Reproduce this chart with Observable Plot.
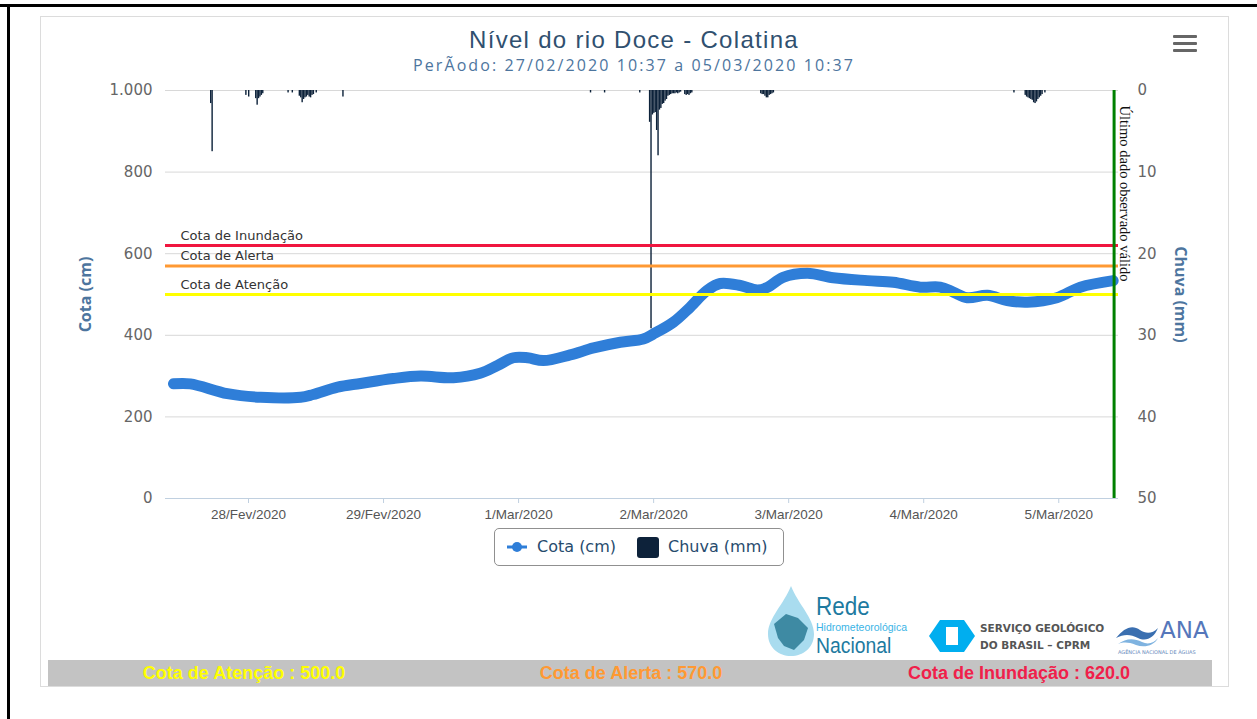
<!DOCTYPE html>
<html><head><meta charset="utf-8">
<script src="https://cdn.jsdelivr.net/npm/d3@7"></script>
<script src="https://cdn.jsdelivr.net/npm/@observablehq/plot@0.6"></script>
<style>
body{margin:0;background:#fff;width:1257px;height:719px;overflow:hidden;position:relative;font-family:"Open Sans",sans-serif;}
#frameTop{position:absolute;left:0;top:4px;width:1257px;height:3px;background:#000;}
#frameLeft{position:absolute;left:7px;top:4px;width:3px;height:715px;background:#000;}
#panel{position:absolute;left:40px;top:16px;width:1189px;height:671px;border:1px solid #dcdcdc;box-sizing:border-box;background:#fff;}
#title{position:absolute;left:40px;width:1188px;top:27px;text-align:center;font-family:"Liberation Sans",Arial,sans-serif;font-size:24px;letter-spacing:1.3px;color:#30506f;line-height:26px;}
#subtitle{position:absolute;left:40px;width:1188px;top:56px;text-align:center;font-size:16px;letter-spacing:2.1px;color:#4d759e;line-height:18px;}
#menu{position:absolute;left:1173px;top:35px;width:24px;}
#menu div{height:3px;background:#666;border-radius:1px;margin-bottom:4px;}
#chart{position:absolute;left:40px;top:80px;}
#legend{position:absolute;left:494px;top:528px;width:290px;height:38px;border:1px solid #909090;border-radius:5px;box-sizing:border-box;font-family:"DejaVu Sans",sans-serif;font-size:16px;color:#274b6d;}
#legend span{position:absolute;top:8px;line-height:20px;}
#footer{position:absolute;left:48px;top:660px;width:1164px;height:26px;background:#c3c3c3;font-family:"Liberation Sans",Arial,sans-serif;font-weight:bold;font-size:18px;}
#footer span{position:absolute;top:2px;transform:translateX(-50%);white-space:nowrap;line-height:22px;}
.logo{position:absolute;white-space:nowrap;}
</style>
</head><body>
<div id="frameTop"></div><div id="frameLeft"></div>
<div id="panel"></div>
<div id="title">Nível do rio Doce - Colatina</div>
<div id="subtitle">PerÃodo: 27/02/2020 10:37 a 05/03/2020 10:37</div>
<div id="menu"><div></div><div></div><div></div></div>
<div id="chart"></div>
<div id="legend">
  <svg style="position:absolute;left:11px;top:12px" width="22" height="12"><line x1="1" y1="6" x2="21" y2="6" stroke="#2f7ed8" stroke-width="3"/><circle cx="11" cy="6" r="5" fill="#2f7ed8"/></svg>
  <span style="left:42px">Cota (cm)</span>
  <div style="position:absolute;left:142px;top:8px;width:22px;height:21px;background:#0d223a;border-radius:3px"></div>
  <span style="left:173px">Chuva (mm)</span>
</div>
<!-- logos -->
<svg class="logo" style="left:764px;top:584px" width="54" height="74">
  <path d="M27 2 C20 20 4 34 4 50 C4 64 15 72 27 72 C39 72 50 64 50 50 C50 34 34 20 27 2 Z" fill="#a9dcef"/>
  <path d="M10 40 L22 30 L34 34 L44 44 L40 56 L30 66 L20 62 L14 54 Z" fill="#3e8aa3"/>
</svg>
<div class="logo" style="left:816px;top:594px;font-family:'Liberation Sans Narrow','Liberation Sans',sans-serif;font-size:25px;color:#1d7aa0;line-height:24px;transform:scaleX(0.9);transform-origin:left">Rede</div>
<div class="logo" style="left:816px;top:621px;font-family:'Liberation Sans Narrow','Liberation Sans',sans-serif;font-size:10.5px;color:#3ab4e6;line-height:12px;transform:scaleX(1.0);transform-origin:left">Hidrometeorológica</div>
<div class="logo" style="left:816px;top:635px;font-family:'Liberation Sans Narrow','Liberation Sans',sans-serif;font-size:22px;color:#1d7aa0;line-height:22px;transform:scaleX(0.88);transform-origin:left">Nacional</div>
<svg class="logo" style="left:928px;top:619px" width="48" height="34">
  <path d="M12 1 L36 1 L47 17 L36 33 L12 33 L1 17 Z" fill="#00aeef"/>
  <path d="M18 8 L30 8 L30 26 L18 26 Z" fill="#fff"/>
</svg>
<div class="logo" style="left:980px;top:621px;font-family:'DejaVu Sans',sans-serif;font-weight:bold;font-size:10.5px;color:#555;line-height:14px">SERVIÇO GEOLÓGICO</div>
<div class="logo" style="left:980px;top:638px;font-family:'DejaVu Sans',sans-serif;font-weight:bold;font-size:10.5px;color:#555;line-height:14px">DO BRASIL – CPRM</div>
<svg class="logo" style="left:1114px;top:618px" width="46" height="30">
  <path d="M2 20 C10 10 18 6 26 12 C32 16 38 16 44 10 C40 20 32 24 24 20 C16 16 10 16 2 20 Z" fill="#3a6fb0"/>
  <path d="M4 26 C12 20 20 20 28 24 C34 27 40 25 44 20 C40 28 30 30 22 27 C14 24 10 24 4 26 Z" fill="#7fb3e0"/>
</svg>
<div class="logo" style="left:1160px;top:617px;font-family:'DejaVu Sans',sans-serif;font-size:23px;color:#5577bb;line-height:26px">ANA</div>
<div class="logo" style="left:1118px;top:649px;font-family:'DejaVu Sans',sans-serif;font-size:5px;color:#6688bb;line-height:6px">AGÊNCIA NACIONAL DE ÁGUAS</div>
<div id="footer">
  <span style="left:196px;color:#ffff00">Cota de Atenção : 500.0</span>
  <span style="left:583px;color:#ff9933">Cota de Alerta : 570.0</span>
  <span style="left:971px;color:#f0204a">Cota de Inundação : 620.0</span>
</div>
<script>
// ---- data ----
const cotaTimes = [
  "2020-02-27T10:40","2020-02-27T13:40","2020-02-27T20:15","2020-02-28T02:10","2020-02-28T09:15",
  "2020-02-28T11:30","2020-02-28T15:50","2020-02-28T19:55","2020-02-29T01:45","2020-02-29T06:35",
  "2020-02-29T12:25","2020-02-29T17:10","2020-02-29T20:15","2020-02-29T23:05","2020-03-01T01:35",
  "2020-03-01T04:25","2020-03-01T09:10","2020-03-01T13:20","2020-03-01T18:05","2020-03-01T22:10",
  "2020-03-01T23:55","2020-03-02T03:30","2020-03-02T06:30","2020-03-02T09:30","2020-03-02T11:50",
  "2020-03-02T15:25","2020-03-02T18:25","2020-03-02T20:10","2020-03-02T23:00","2020-03-03T03:20",
  "2020-03-03T07:55","2020-03-03T14:00","2020-03-03T18:35","2020-03-03T23:25","2020-03-04T02:55",
  "2020-03-04T05:15","2020-03-04T07:45","2020-03-04T11:20","2020-03-04T14:50","2020-03-04T18:25",
  "2020-03-04T23:40","2020-03-05T03:50","2020-03-05T09:40"
];
const cotaValues = [
  281,281,257,248,248,
  255,273,282,294,300,
  296,307,326,345,345,
  338,352,369,383,391,
  403,432,469,510,527,
  522,511,517,542,552,
  541,534,530,518,518,
  506,492,498,485,481,
  492,518,534
];
const rainTimes = [
  "2020-02-27T17:15","2020-02-27T17:30","2020-02-27T23:30","2020-02-28T00:00",
  "2020-02-28T01:15","2020-02-28T01:30","2020-02-28T01:45","2020-02-28T02:00","2020-02-28T02:15","2020-02-28T02:30",
  "2020-02-28T07:00","2020-02-28T07:45",
  "2020-02-28T09:00","2020-02-28T09:15","2020-02-28T09:30","2020-02-28T09:45","2020-02-28T10:00","2020-02-28T10:15",
  "2020-02-28T10:30","2020-02-28T10:45","2020-02-28T11:00","2020-02-28T11:15","2020-02-28T11:30","2020-02-28T12:00",
  "2020-02-28T16:45","2020-03-01T12:45","2020-03-01T15:15","2020-03-01T21:30",
  "2020-03-01T23:15","2020-03-01T23:30","2020-03-01T23:45","2020-03-02T00:00","2020-03-02T00:15","2020-03-02T00:30",
  "2020-03-02T00:45","2020-03-02T01:00","2020-03-02T01:15","2020-03-02T01:30","2020-03-02T01:45","2020-03-02T02:00",
  "2020-03-02T02:15","2020-03-02T02:30","2020-03-02T02:45","2020-03-02T03:00","2020-03-02T03:15","2020-03-02T03:30",
  "2020-03-02T03:45","2020-03-02T04:00","2020-03-02T04:15","2020-03-02T04:30","2020-03-02T04:45",
  "2020-03-02T05:30","2020-03-02T05:45","2020-03-02T06:00","2020-03-02T06:15","2020-03-02T06:30","2020-03-02T06:45",
  "2020-03-02T19:00","2020-03-02T19:15","2020-03-02T19:30","2020-03-02T19:45","2020-03-02T20:00","2020-03-02T20:15",
  "2020-03-02T20:30","2020-03-02T20:45","2020-03-02T21:00","2020-03-02T21:15",
  "2020-03-04T16:00",
  "2020-03-04T18:00","2020-03-04T18:15","2020-03-04T18:30","2020-03-04T18:45","2020-03-04T19:00","2020-03-04T19:15",
  "2020-03-04T19:30","2020-03-04T19:45","2020-03-04T20:00","2020-03-04T20:15","2020-03-04T20:30","2020-03-04T20:45",
  "2020-03-04T21:00","2020-03-04T21:30"
];
const rainValues = [
  1.6,7.5,0.6,0.8,
  1.0,1.8,1.0,0.8,0.6,0.4,
  0.3,0.3,
  0.7,0.9,1.5,1.1,0.9,0.8,
  0.6,0.8,0.9,0.6,0.5,0.3,
  0.8,0.3,0.3,0.3,
  3.9,29.2,3.0,2.8,2.7,4.9,
  8.0,2.4,2.2,1.7,1.6,1.3,
  1.1,0.7,0.6,0.5,0.4,0.4,
  0.4,0.3,0.4,0.3,0.2,
  0.5,0.6,0.5,0.6,0.4,0.3,
  0.4,0.5,0.5,0.7,0.9,0.9,
  0.6,0.5,0.4,0.3,
  0.3,
  0.6,0.8,0.9,1.0,1.1,1.2,
  1.5,1.6,1.4,1.1,0.9,0.7,
  0.5,0.3
];
const thresholdNames = ["Cota de Inundação","Cota de Alerta","Cota de Atenção"];
const thresholdValues = [620, 570, 500];
const leftTicks = [0,200,400,600,800,1000];
const rainTicks = [0,10,20,30,40,50];
const dayTicks = ["2020-02-28T00:00","2020-02-29T00:00","2020-03-01T00:00","2020-03-02T00:00","2020-03-03T00:00","2020-03-04T00:00","2020-03-05T00:00"];
const dayLabels = ["28/Fev/2020","29/Fev/2020","1/Mar/2020","2/Mar/2020","3/Mar/2020","4/Mar/2020","5/Mar/2020"];
const xStart = "2020-02-27T09:15", xEnd = "2020-03-05T10:37";
const lastObserved = "2020-03-05T09:50";
const lastLabel = "Último dado observado válido";

// ---- build ----
const parse = d3.utcParse("%Y-%m-%dT%H:%M");
const cota = cotaTimes.map((t,i)=>({t:parse(t), v:cotaValues[i]}));
const rain = rainTimes.map((t,i)=>({t:parse(t), mm:rainValues[i]}));
const thresholds = thresholdNames.map((n,i)=>({name:n, value:thresholdValues[i]}));
const Y_MAX = 1000, RAIN_MAX = 50;
const toY = mm => Y_MAX - mm*(Y_MAX/RAIN_MAX);
const step = 15*60*1000;
const thresholdColor = {"Cota de Inundação":"#f0163f","Cota de Alerta":"#ff9933","Cota de Atenção":"#ffff00"};
const dayMap = new Map(dayTicks.map((d,i)=>[+parse(d), dayLabels[i]]));
const fmtLeft = d => d >= 1000 ? d3.format(",")(d).replace(/,/g,".") : String(d);

const chart = Plot.plot({
  width:1188, height:450,
  marginLeft:125, marginRight:110, marginTop:10, marginBottom:32,
  style:{background:"transparent", overflow:"visible"},
  x:{type:"utc", domain:[parse(xStart), parse(xEnd)]},
  y:{domain:[0, Y_MAX]},
  marks:[
    Plot.gridY(leftTicks, {stroke:"#d8d8d8", strokeOpacity:1}),
    Plot.axisY(leftTicks, {anchor:"left", tickSize:0, tickPadding:13, tickFormat:fmtLeft, label:null, fontSize:15, fill:"#666", fontFamily:"DejaVu Sans"}),
    Plot.axisY(rainTicks.map(toY), {anchor:"right", tickSize:0, tickPadding:19, tickFormat:d => String(Math.round((Y_MAX-d)/(Y_MAX/RAIN_MAX))), label:null, fontSize:15, fill:"#666", fontFamily:"DejaVu Sans"}),
    Plot.ruleY([0], {stroke:"#C0D0E0", strokeWidth:1}),
    Plot.axisX(dayTicks.map(parse), {anchor:"bottom", tickSize:5, tickPadding:6, stroke:"#C0D0E0", tickFormat:d => dayMap.get(+d), label:null, fontSize:13.5, fill:"#555", fontFamily:"Liberation Sans"}),
    Plot.rect(rain, {x1:"t", x2:d => new Date(+d.t + step), y1:() => Y_MAX, y2:d => toY(d.mm), fill:"#0d223a"}),
    Plot.line(cota, {x:"t", y:"v", stroke:"#2f7ed8", strokeWidth:11, curve:"catmull-rom", strokeLinecap:"round", strokeLinejoin:"round"}),
    ...thresholds.map(th => Plot.ruleY([th.value], {stroke:thresholdColor[th.name], strokeWidth:3})),
    Plot.text(thresholds, {y:"value", frameAnchor:"left", dx:15, dy:-10, text:"name", textAnchor:"start", fill:"#333", fontSize:13, fontFamily:"DejaVu Sans", style:"letter-spacing:0.4px"}),
    Plot.ruleX([parse(lastObserved)], {stroke:"#008000", strokeWidth:3}),
    Plot.text([{t:parse(lastObserved), label:lastLabel}], {x:"t", y:() => Y_MAX, text:"label", rotate:90, dx:11, dy:15, textAnchor:"start", fill:"#111", fontSize:14.5, fontFamily:"Liberation Serif", style:"letter-spacing:1px"}),
    Plot.text(["Cota (cm)"], {frameAnchor:"left", dx:-80, rotate:-90, textAnchor:"middle", text:d=>d, fill:"#4d759e", fontSize:16, fontWeight:"bold", fontFamily:"Open Sans"}),
    Plot.text(["Chuva (mm)"], {frameAnchor:"right", dx:62, rotate:90, textAnchor:"middle", text:d=>d, fill:"#4d759e", fontSize:16, fontWeight:"bold", fontFamily:"Open Sans"})
  ]
});
document.getElementById("chart").appendChild(chart);
</script>
</body></html>
